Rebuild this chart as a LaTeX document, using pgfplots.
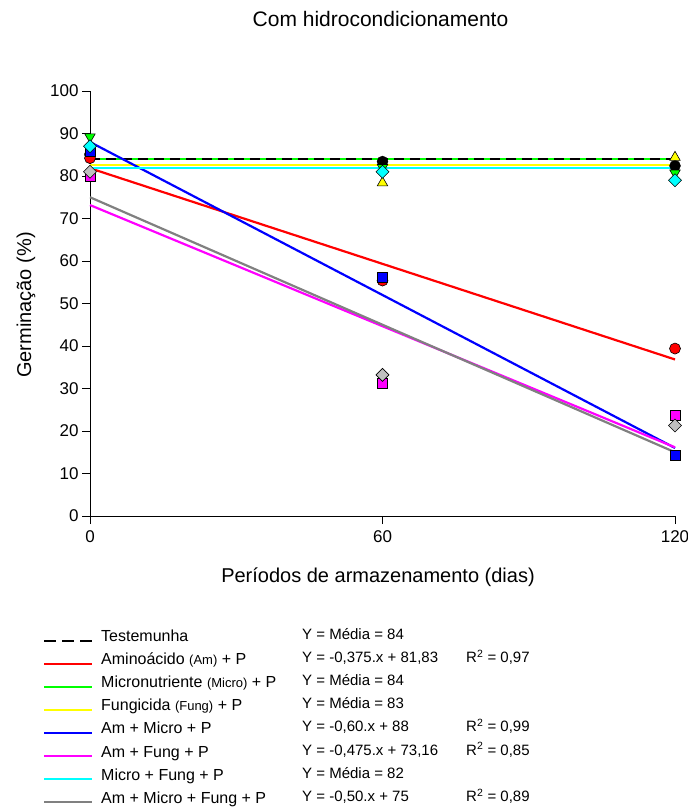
\documentclass[border=0pt]{standalone}
\usepackage{pgfplots}
\pgfplotsset{compat=1.18}
\usepackage{fontspec}
\setmainfont{Liberation Sans}
\definecolor{cgreen}{RGB}{0,255,0}
\definecolor{cyellow}{RGB}{255,255,0}
\definecolor{cblue}{RGB}{0,0,255}
\definecolor{cmag}{RGB}{255,0,255}
\definecolor{ccyan}{RGB}{0,255,255}
\definecolor{cgrayl}{RGB}{128,128,128}
\definecolor{cgraym}{RGB}{192,192,192}
\begin{document}
\begin{tikzpicture}
\path[use as bounding box] (0bp,0bp) rectangle (688bp,-807bp);
\begin{axis}[
  at={(90bp,-516bp)}, anchor=south west, scale only axis,
  width=585bp, height=425bp,
  xmin=0, xmax=120, ymin=0, ymax=100,
  axis x line*=bottom, axis y line*=left,
  xtick={0,60,120}, ytick={0,10,...,100},
  tick align=outside, major tick length=8bp,
  tick style={black, line width=0.8bp},
  axis line style={black, line width=0.8bp},
  tick label style={font=\fontsize{17bp}{20bp}\selectfont},
  xticklabel style={yshift=-3bp},
  /pgf/number format/assume math mode=true,
  clip=false,
]
% regression / mean lines
\addplot[cgreen, line width=2.2bp] coordinates {(0,84) (120,84)};
\addplot[black, line width=2bp, dash pattern=on 10bp off 6bp] coordinates {(0,84) (120,84)};
\addplot[red, line width=2.2bp] coordinates {(0,81.83) (120,36.83)};
\addplot[cyellow, line width=2.2bp] coordinates {(0,82.5) (120,82.5)};
\addplot[cblue, line width=2.2bp] coordinates {(0,88) (120,16)};
\addplot[cmag, line width=2.2bp] coordinates {(0,73.16) (120,16.16)};
\addplot[ccyan, line width=2.2bp] coordinates {(0,81.9) (120,81.9)};
\addplot[cgrayl, line width=2.2bp] coordinates {(0,75) (120,15)};
% observed points
\addplot[only marks, mark=*, mark size=5.5bp, mark options={fill=black, draw=black}] coordinates {(0,85) (60,83.4) (120,82.4)};
\addplot[only marks, mark=*, mark size=5.5bp, mark options={fill=red, draw=black, line width=0.6bp}] coordinates {(0,84.2) (60,55.4) (120,39.4)};
\addplot[only marks, mark=triangle*, mark size=6bp, mark options={fill=cgreen, draw=black, line width=0.6bp, rotate=180}] coordinates {(0,89.2) (60,82) (120,80.7)};
\addplot[only marks, mark=triangle*, mark size=6bp, mark options={fill=cyellow, draw=black, line width=0.6bp}] coordinates {(0,86) (60,78.4) (120,84.4)};
\addplot[only marks, mark=square*, mark size=5bp, mark options={fill=cblue, draw=black, line width=0.6bp}] coordinates {(0,85.7) (60,56.2) (120,14.4)};
\addplot[only marks, mark=square*, mark size=5bp, mark options={fill=cmag, draw=black, line width=0.6bp}] coordinates {(0,80) (60,31.3) (120,23.6)};
\addplot[only marks, mark=square*, mark size=4.6bp, mark options={fill=ccyan, draw=black, line width=0.6bp, rotate=45}] coordinates {(0,87) (60,81) (120,79)};
\addplot[only marks, mark=square*, mark size=4.6bp, mark options={fill=cgraym, draw=black, line width=0.6bp, rotate=45}] coordinates {(0,81) (60,33.2) (120,21.3)};
\end{axis}
% title and axis labels
\node[anchor=base, font=\fontsize{21bp}{25bp}\selectfont] at (380.5bp,-26bp) {Com hidrocondicionamento};
\node[anchor=base, font=\fontsize{20bp}{24bp}\selectfont] at (378bp,-582bp) {Períodos de armazenamento (dias)};
\node[anchor=base, rotate=90, font=\fontsize{20bp}{24bp}\selectfont] at (31bp,-305bp) {Germinação (\%)};
% legend
\newcommand\legrow[6]{%
  \draw[#2] (44bp,-#1bp+1bp) -- (92bp,-#1bp+1bp);
  \node[anchor=base west, inner sep=0pt, font=\fontsize{16bp}{19bp}\selectfont] at (101bp,-#1bp) {#3};
  \node[anchor=base west, inner sep=0pt, font=\fontsize{15bp}{18bp}\selectfont] at (302bp,-#1bp+2bp) {#4};
  \node[anchor=base west, inner sep=0pt, font=\fontsize{15bp}{18bp}\selectfont] at (466bp,-#1bp+2bp) {#5};
}
\newcommand\sm[1]{{\fontsize{13bp}{15bp}\selectfont #1}}
\legrow{641.5}{black, line width=2bp, dash pattern=on 12bp off 6bp}{Testemunha}{Y = Média = 84}{}{}
\legrow{664.6}{red, line width=2bp}{Aminoácido \sm{(Am)} + P}{Y = -0,375.x + 81,83}{R\textsuperscript{2} = 0,97}{}
\legrow{687.7}{cgreen, line width=2bp}{Micronutriente \sm{(Micro)} + P}{Y = Média = 84}{}{}
\legrow{710.8}{cyellow, line width=2bp}{Fungicida \sm{(Fung)} + P}{Y = Média = 83}{}{}
\legrow{733.9}{cblue, line width=2bp}{Am + Micro + P}{Y = -0,60.x + 88}{R\textsuperscript{2} = 0,99}{}
\legrow{757}{cmag, line width=2bp}{Am + Fung + P}{Y = -0,475.x + 73,16}{R\textsuperscript{2} = 0,85}{}
\legrow{780.1}{ccyan, line width=2bp}{Micro + Fung + P}{Y = Média = 82}{}{}
\legrow{803.2}{cgrayl, line width=2bp}{Am + Micro + Fung + P}{Y = -0,50.x + 75}{R\textsuperscript{2} = 0,89}{}
\end{tikzpicture}
\end{document}
